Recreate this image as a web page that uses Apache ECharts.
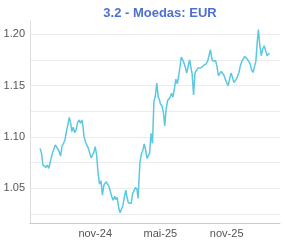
<!DOCTYPE html>
<html><head><meta charset="utf-8">
<script src="https://cdn.jsdelivr.net/npm/echarts@6/dist/echarts.min.js"></script>
<style>html,body{margin:0;padding:0;background:#fff}#c{width:285px;height:243px}</style>
</head><body><div id="c"></div>
<script>
const titleText = '3.2 - Moedas: EUR';
const months = ['2024-06','2024-07','2024-08','2024-09','2024-10','2024-11','2024-12',
  '2025-01','2025-02','2025-03','2025-04','2025-05','2025-06','2025-07','2025-08',
  '2025-09','2025-10','2025-11','2025-12','2026-01','2026-02'];
const daysOfMonth = ['01','05','09','13','17','21','25','28'];
const eurValues = [
  1.0888,1.0839,1.0725,1.0742,1.0703,1.0725,1.0693,1.0735,
  1.0781,1.0839,1.0856,1.0921,1.0911,1.0878,1.0846,1.0813,
  1.0911,1.0937,1.0970,1.1051,1.1117,1.1190,1.1133,1.1051,
  1.1094,1.1042,1.1068,1.1139,1.1165,1.1133,1.1165,1.1107,
  1.1002,1.0950,1.0931,1.0888,1.0839,1.0797,1.0807,1.0846,
  1.0905,1.0823,1.0644,1.0540,1.0572,1.0432,1.0529,1.0520,
  1.0562,1.0556,1.0520,1.0530,1.0416,1.0383,1.0422,1.0389,
  1.0409,1.0311,1.0259,1.0278,1.0334,1.0416,1.0481,1.0416,
  1.0357,1.0367,1.0350,1.0448,1.0448,1.0507,1.0487,1.0399,
  1.0389,1.0742,1.0833,1.0865,1.0931,1.0872,1.0790,1.0813,
  1.0839,1.1035,1.0937,1.1345,1.1400,1.1524,1.1387,1.1367,
  1.1322,1.1302,1.1247,1.1107,1.1270,1.1354,1.1345,1.1387,
  1.1426,1.1387,1.1475,1.1563,1.1517,1.1596,1.1703,1.1778,
  1.1791,1.1726,1.1680,1.1622,1.1628,1.1752,1.1736,1.1615,
  1.1410,1.1622,1.1648,1.1671,1.1671,1.1671,1.1661,1.1694,
  1.1687,1.1713,1.1736,1.1726,1.1850,1.1759,1.1736,1.1746,
  1.1746,1.1687,1.1596,1.1615,1.1638,1.1638,1.1596,1.1563,
  1.1550,1.1498,1.1563,1.1622,1.1583,1.1530,1.1540,1.1563,
  1.1589,1.1628,1.1694,1.1736,1.1746,1.1785,1.1791,1.1759,
  1.1736,1.1713,1.1654,1.1628,1.1638,1.1736,1.1931,1.2046,
  1.1889,1.1791,1.1857,1.1889,1.1843,1.1791,1.1778,1.1817
];
const xTickDates = ['2024-11-01','2025-05-01','2025-11-01'];
const xTickLabels = ['nov-24','mai-25','nov-25'];
const yGridValues = [1.025,1.05,1.075,1.10,1.125,1.15,1.175,1.20];
const yLabelValues = [1.05,1.10,1.15,1.20];

function ts(s){const p=s.split('-').map(Number);return Date.UTC(p[0],p[1]-1,p[2]);}
const dates = [];
months.forEach(m => daysOfMonth.forEach(d => dates.push(m + '-' + d)));
const seriesData = dates.map((d,i) => [ts(d), eurValues[i]]);
const xTickTs = xTickDates.map(ts);

const chart = echarts.init(document.getElementById('c'), null, {renderer:'canvas'});
chart.setOption({
  animation: false,
  title: {
    text: titleText, left: 155, top: 2, textAlign: 'center',
    textStyle: {fontSize: 13, fontWeight: 'bold', color: '#4f6fd0', fontFamily: 'Liberation Sans, Arial, sans-serif'}
  },
  grid: {left: 30, right: 5, top: 21, bottom: 20, containLabel: false},
  xAxis: {
    type: 'value', min: ts('2024-05-04'), max: ts('2026-03-29'),
    axisLine: {show: true, lineStyle: {color: '#cccccc', width: 1}},
    axisTick: {show: false, customValues: xTickTs},
    splitLine: {show: false},
    axisLabel: {
      customValues: xTickTs, margin: 5, color: '#555', fontSize: 11,
      fontFamily: 'Liberation Sans, Arial, sans-serif',
      formatter: function(v){
        let best = 0, bd = Infinity;
        xTickTs.forEach((t,i)=>{const dd=Math.abs(t-v); if(dd<bd){bd=dd;best=i;}});
        return xTickLabels[best];
      }
    }
  },
  yAxis: {
    type: 'value', min: 1.016, max: 1.213,
    axisLine: {show: true, lineStyle: {color: '#dddddd', width: 1}},
    axisTick: {show: false, customValues: yGridValues},
    splitLine: {show: true, lineStyle: {color: '#ebebeb', width: 1}},
    axisLabel: {
      customValues: yLabelValues, margin: 5, color: '#555', fontSize: 11,
      fontFamily: 'Liberation Sans, Arial, sans-serif',
      formatter: v => v.toFixed(2)
    }
  },
  series: [{
    type: 'line', data: seriesData, showSymbol: false, symbol: 'none',
    lineStyle: {color: '#5bc8e2', width: 1.5},
    itemStyle: {color: '#5bc8e2'}
  }]
});
</script></body></html>
